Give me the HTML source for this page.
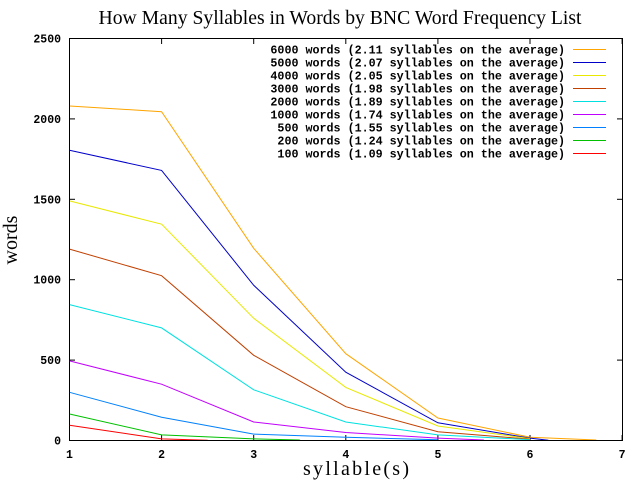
<!DOCTYPE html>
<html><head><meta charset="utf-8"><style>
html,body{margin:0;padding:0;background:#fff;}
svg{display:block;}
.t{font-family:"Liberation Mono",monospace;font-weight:bold;font-size:11.5px;}
.l{font-family:"Liberation Mono",monospace;font-weight:bold;font-size:11.7px;}
.s{font-family:"Liberation Serif",serif;}
</style></head><body>
<svg id="c" width="640" height="480" xmlns="http://www.w3.org/2000/svg">
<rect width="640" height="480" fill="#fff"/>
<text class="s" x="340" y="24" font-size="19.5" text-anchor="middle" textLength="483" lengthAdjust="spacingAndGlyphs">How Many Syllables in Words by BNC Word Frequency List</text>
<text class="s" x="356" y="475" font-size="20" text-anchor="middle" textLength="106" lengthAdjust="spacing">syllable(s)</text>
<text class="s" x="17" y="240" font-size="20" text-anchor="middle" transform="rotate(-90 17 240)">words</text>
<g id="g"></g>
<rect x="69.5" y="38.5" width="553" height="402" fill="none" stroke="#000" stroke-width="1"/>
</svg>
<script>
var X=function(v){return 69.5+(v-1)*92.1},Y=function(w){return 440.5-w*402/2500};
var g=document.getElementById('g'),h='';
for(var i=0;i<=5;i++){var y=Y(i*500);h+='<line x1="69.5" y1="'+y+'" x2="75" y2="'+y+'" stroke="#000"/><line x1="617" y1="'+y+'" x2="622.5" y2="'+y+'" stroke="#000"/><text class="t" x="61" y="'+(y+4)+'" text-anchor="end">'+(i*500)+'</text>';}
for(var v=1;v<=7;v++){var x=X(v);h+='<line x1="'+x+'" y1="440.5" x2="'+x+'" y2="435" stroke="#000"/><line x1="'+x+'" y1="38.5" x2="'+x+'" y2="44" stroke="#000"/><text class="t" x="'+x+'" y="458" text-anchor="middle">'+v+'</text>';}
var S=[
["6000","2.11","#ffa500",[[1,2080],[2,2045],[3,1195],[4,540],[5,140],[6,20],[6.72,3]]],
["5000","2.07","#0000c8",[[1,1805],[2,1680],[3,965],[4,425],[5,110],[6,15],[6.2,2]]],
["4000","2.05","#e8e800",[[1,1490],[2,1345],[3,760],[4,330],[5,90],[6,12]]],
["3000","1.98","#c04000",[[1,1190],[2,1025],[3,530],[4,210],[5,55],[6,8]]],
["2000","1.89","#00e0e0",[[1,845],[2,700],[3,315],[4,115],[5,35],[6,5]]],
["1000","1.74","#c000ff",[[1,495],[2,350],[3,115],[4,50],[5,15],[5.5,3]]],
["500","1.55","#0080ff",[[1,300],[2,145],[3,40],[4,20],[5,5]]],
["200","1.24","#00c000",[[1,165],[2,35],[3,10],[3.5,3]]],
["100","1.09","#ff0000",[[1,95],[2,10],[2.5,2]]]];
S.forEach(function(s,k){var p=s[3].map(function(q){return X(q[0]).toFixed(1)+','+Y(q[1]).toFixed(1)}).join(' ');
h+='<polyline points="'+p+'" fill="none" stroke="'+s[2]+'" stroke-width="1"/>';
var ly=49.5+k*13;
var lab=(s[0].length<4?' ':'')+s[0]+' words ('+s[1]+' syllables on the average)';
h+='<text class="l" x="565" y="'+(ly+4)+'" text-anchor="end" xml:space="preserve" style="white-space:pre">'+lab+'</text><line x1="573" y1="'+ly+'" x2="606" y2="'+ly+'" stroke="'+s[2]+'"/>';});
g.innerHTML=h;
</script>
</body></html>
